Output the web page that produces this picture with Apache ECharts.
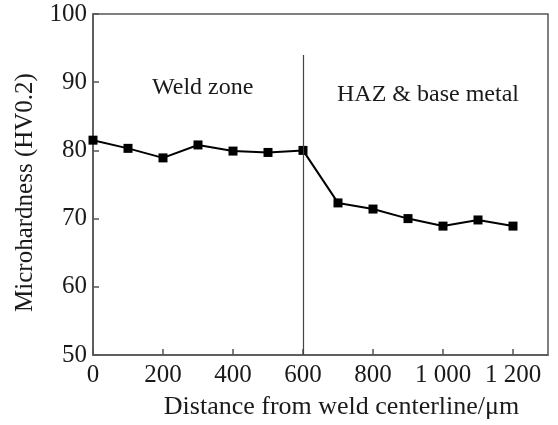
<!DOCTYPE html>
<html><head><meta charset="utf-8">
<script src="https://cdn.jsdelivr.net/npm/echarts@6/dist/echarts.min.js"></script>
<style>html,body{margin:0;padding:0;background:#fff}#c{width:558px;height:425px}</style>
</head><body><div id="c"></div>
<script>
var distances = [0, 100, 200, 300, 400, 500, 600, 700, 800, 900, 1000, 1100, 1200];
var hardness = [81.5, 80.3, 78.9, 80.8, 79.9, 79.7, 80.0, 72.3, 71.4, 70.0, 68.9, 69.8, 68.9];
var boundaryX = 600;
var boundaryTop = 94;
var zoneLabels = ['Weld zone', 'HAZ & base metal'];
var font = 'Liberation Serif';
var chart = echarts.init(document.getElementById('c'));
chart.setOption({
  animation: false,
  backgroundColor: '#fff',
  grid: {left: 93, right: 10, top: 14, bottom: 65, show: true, borderColor: '#555', borderWidth: 1.5},
  xAxis: {
    type: 'value', min: 0, max: 1300, interval: 200,
    axisLine: {lineStyle: {color: '#555', width: 1.5}},
    axisTick: {inside: true, length: 6, lineStyle: {color: '#555', width: 1.5}},
    axisLabel: {color: '#1a1a1a', fontFamily: font, fontSize: 25, margin: 8, showMaxLabel: false,
      formatter: function(v){ if (v > 1200) return ''; return v >= 1000 ? (Math.floor(v/1000) + ' ' + String(v%1000).padStart(3,'0')) : String(v); }},
    splitLine: {show: false},
    name: 'Distance from weld centerline/\u03bcm', nameLocation: 'middle', nameGap: 39,
    nameTextStyle: {color: '#1a1a1a', fontFamily: font, fontSize: 26, padding: [0, 0, 0, 42]}
  },
  yAxis: {
    type: 'value', min: 50, max: 100, interval: 10,
    axisLine: {lineStyle: {color: '#555', width: 1.5}},
    axisTick: {inside: true, length: 6, lineStyle: {color: '#555', width: 1.5}},
    axisLabel: {color: '#1a1a1a', fontFamily: font, fontSize: 25, margin: 6},
    splitLine: {show: false},
    name: 'Microhardness (HV0.2)', nameLocation: 'middle', nameGap: 55,
    nameTextStyle: {color: '#1a1a1a', fontFamily: font, fontSize: 25, padding: [0, 16, 0, 0]}
  },
  series: [{
    type: 'line',
    data: distances.map(function(d, i){ return [d, hardness[i]]; }),
    symbol: 'rect', symbolSize: 9,
    lineStyle: {color: '#000', width: 2},
    itemStyle: {color: '#000'},
    markLine: {
      silent: true, symbol: 'none', label: {show: false},
      lineStyle: {color: '#444', width: 1.2, type: 'solid'},
      data: [[{coord: [boundaryX, boundaryTop]}, {coord: [boundaryX, 50]}]]
    }
  }],
  graphic: [
    {type: 'text', style: {x: 152, y: 88, text: zoneLabels[0], font: '24px "Liberation Serif"', fill: '#1a1a1a', verticalAlign: 'middle'}},
    {type: 'text', style: {x: 337, y: 95, text: zoneLabels[1], font: '24px "Liberation Serif"', fill: '#1a1a1a', verticalAlign: 'middle'}}
  ]
});
</script></body></html>
